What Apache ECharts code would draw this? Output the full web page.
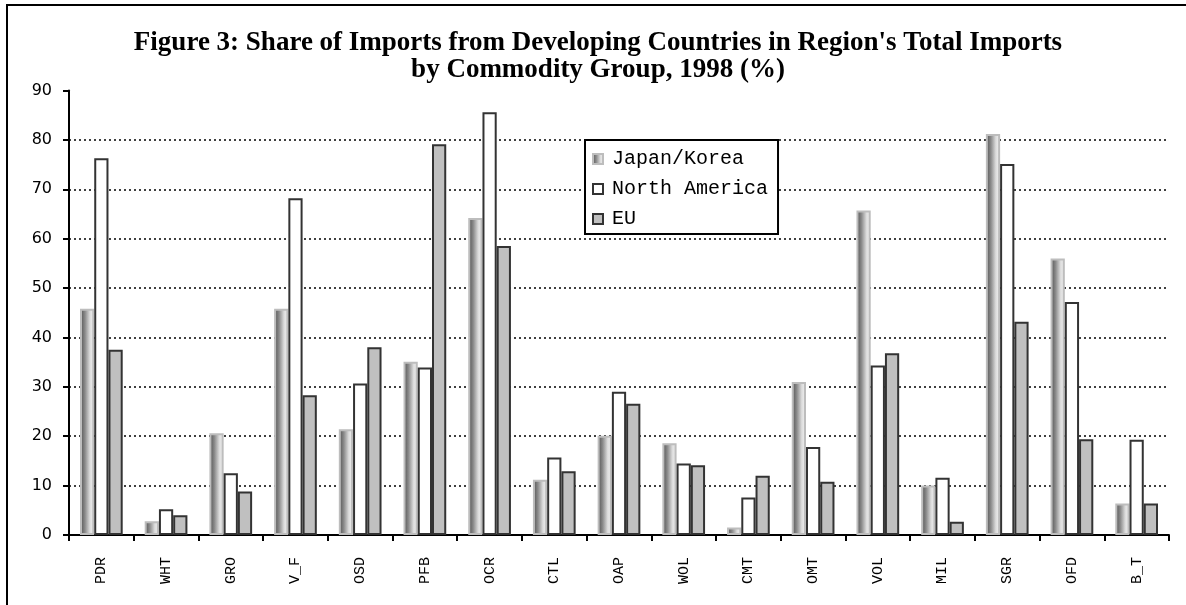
<!DOCTYPE html>
<html>
<head>
<meta charset="utf-8">
<script src="https://cdn.jsdelivr.net/npm/echarts@6/dist/echarts.min.js"></script>
<style>
  html, body { margin: 0; padding: 0; background: #fff; }
  #root { width: 1186px; height: 605px; }
</style>
</head>
<body>
<div id="root"></div>
<script>
const categories = ['PDR', 'WHT', 'GRO', 'V_F', 'OSD', 'PFB', 'OCR', 'CTL', 'OAP',
  'WOL', 'CMT', 'OMT', 'VOL', 'MIL', 'SGR', 'OFD', 'B_T'];

// share of imports from developing countries, 1998 (%)
const japanKorea = [45.8, 2.8, 20.6, 45.8, 21.4, 35.1, 64.2, 11.2, 20.1,
  18.6, 1.5, 31.0, 65.7, 10.0, 81.2, 56.0, 6.4];
const northAmerica = [76.3, 5.2, 12.5, 68.2, 30.7, 33.9, 85.6, 15.7, 29.0,
  14.5, 7.6, 17.8, 34.3, 11.6, 75.1, 47.2, 19.3];
const eu = [37.5, 4.0, 8.8, 28.3, 38.0, 79.1, 58.5, 12.9, 26.6,
  14.1, 12.0, 10.8, 36.8, 2.7, 43.2, 19.4, 6.4];

const yTicks = [0, 10, 20, 30, 40, 50, 60, 70, 80, 90];

let myChart = echarts.init(document.getElementById('root'));

const monoFont = '"Liberation Mono", "DejaVu Sans Mono", monospace';

// the cylinder-like shading of the Japan/Korea bars
const shade = new echarts.graphic.LinearGradient(0, 0, 1, 0, [
  { offset: 0, color: '#4d4d4d' },
  { offset: 0.35, color: '#8a8a8a' },
  { offset: 0.7, color: '#dcdcdc' },
  { offset: 1, color: '#f4f4f4' }
]);

let option = {
  animation: false,
  backgroundColor: '#fff',
  title: {
    text: "Figure 3: Share of Imports from Developing Countries in Region's Total Imports\nby Commodity Group, 1998 (%)",
    left: 593,
    top: 25,
    textAlign: 'center',
    textStyle: {
      fontFamily: '"Liberation Serif", "Times New Roman", serif',
      fontWeight: 'bold',
      fontSize: 27,
      lineHeight: 27,
      color: '#000'
    }
  },
  graphic: [{
    type: 'rect',
    shape: { x: 7, y: 5, width: 1300, height: 700 },
    style: { fill: 'none', stroke: '#000', lineWidth: 2 },
    silent: true
  }],
  legend: {
    left: 585,
    top: 140,
    orient: 'vertical',
    icon: 'rect',
    itemWidth: 10,
    itemHeight: 10,
    itemGap: 10,
    padding: [9, 10, 5, 7],
    borderColor: '#000',
    borderWidth: 2,
    backgroundColor: '#fff',
    textStyle: { fontFamily: monoFont, fontSize: 20, color: '#000', padding: [0, 0, 0, 4] },
    data: ['Japan/Korea', 'North America', 'EU']
  },
  grid: {
    left: 69,
    right: 17,
    top: 90.5,
    bottom: 70,
    containLabel: false
  },
  xAxis: {
    type: 'category',
    data: categories,
    axisLine: { lineStyle: { color: '#000', width: 2 } },
    axisTick: { show: true, length: 6, inside: false, lineStyle: { color: '#000', width: 2 } },
    axisLabel: {
      rotate: 90,
      margin: 22,
      fontFamily: monoFont,
      fontSize: 15,
      color: '#000'
    }
  },
  yAxis: {
    type: 'value',
    min: yTicks[0],
    max: yTicks[yTicks.length - 1],
    interval: 10,
    axisLine: { show: true, lineStyle: { color: '#000', width: 2 } },
    axisTick: { show: true, length: 6, lineStyle: { color: '#000', width: 2 } },
    axisLabel: {
      margin: 17,
      fontFamily: '"DejaVu Sans", Verdana, sans-serif',
      fontSize: 16,
      color: '#000'
    },
    splitLine: {
      show: true,
      showMinLine: false,
      showMaxLine: false,
      lineStyle: { color: '#000', type: [2, 3], width: 1.5 }
    }
  },
  series: [
    {
      name: 'Japan/Korea',
      type: 'bar',
      data: japanKorea,
      barGap: '0%',
      barCategoryGap: '34%',
      itemStyle: { color: shade, borderColor: '#bdbdbd', borderWidth: 2 }
    },
    {
      name: 'North America',
      type: 'bar',
      data: northAmerica,
      itemStyle: { color: '#fff', borderColor: '#333', borderWidth: 2 }
    },
    {
      name: 'EU',
      type: 'bar',
      data: eu,
      itemStyle: { color: '#c0c0c0', borderColor: '#333', borderWidth: 2 }
    }
  ]
};

myChart.setOption(option);
</script>
</body>
</html>
